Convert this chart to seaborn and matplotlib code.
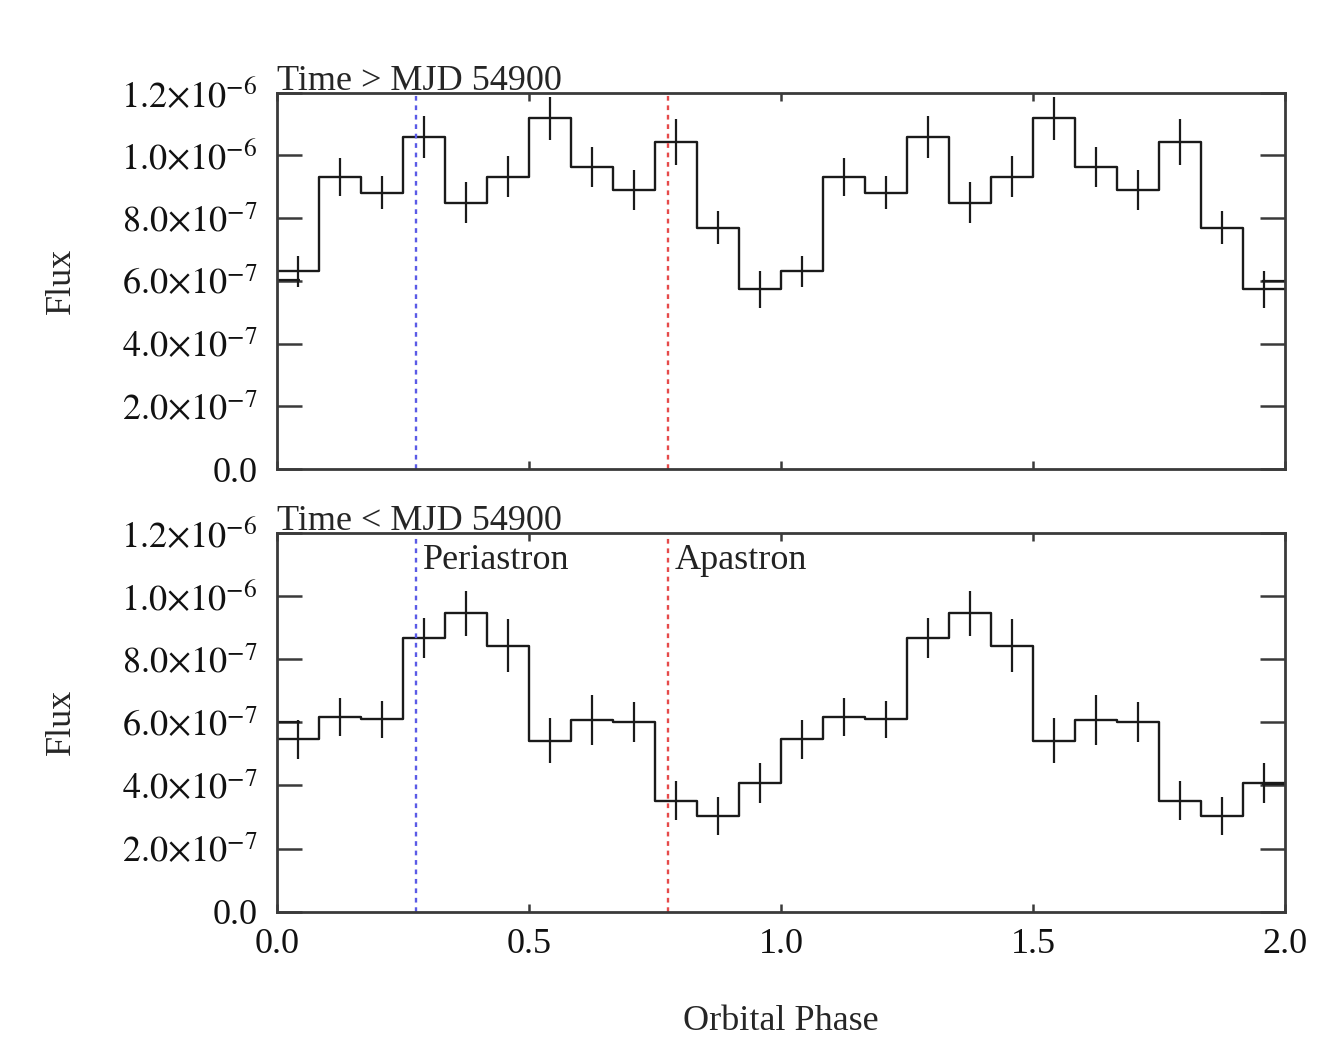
import numpy as np
import pandas as pd
import seaborn as sns
import matplotlib.pyplot as plt
from matplotlib.ticker import FixedLocator, FixedFormatter

OUT_FILE = "out.png"

# --- data: 12 phase bins per orbit, folded light curve shown twice ---
N_BINS = 12
N_CYCLES = 2

flux_late = [6.31e-7, 9.32e-7, 8.81e-7, 10.6e-7, 8.49e-7, 9.32e-7,
             11.18e-7, 9.64e-7, 8.90e-7, 10.43e-7, 7.70e-7, 5.73e-7]
err_late = [0.49e-7, 0.60e-7, 0.52e-7, 0.67e-7, 0.66e-7, 0.65e-7,
            0.69e-7, 0.64e-7, 0.64e-7, 0.73e-7, 0.53e-7, 0.58e-7]

flux_early = [5.46e-7, 6.16e-7, 6.09e-7, 8.66e-7, 9.45e-7, 8.43e-7,
              5.42e-7, 6.07e-7, 6.02e-7, 3.52e-7, 3.03e-7, 4.08e-7]
err_early = [0.61e-7, 0.60e-7, 0.59e-7, 0.63e-7, 0.71e-7, 0.84e-7,
             0.72e-7, 0.80e-7, 0.63e-7, 0.63e-7, 0.59e-7, 0.64e-7]

# short segments at the phase 0 / 2 edges
edge_late = [6.03e-7, 6.00e-7]
edge_early = [6.02e-7, 4.05e-7]

panel_titles = ["Time > MJD 54900", "Time < MJD 54900"]

periastron_phase = 0.275
apastron_phase = 0.775

y_ticks = [0.0, 2e-7, 4e-7, 6e-7, 8e-7, 10e-7, 12e-7]
y_ticklabels = ["0.0", r"$2.0{\times}10^{-7}$", r"$4.0{\times}10^{-7}$",
                r"$6.0{\times}10^{-7}$", r"$8.0{\times}10^{-7}$",
                r"$1.0{\times}10^{-6}$", r"$1.2{\times}10^{-6}$"]
x_ticks = [0.0, 0.5, 1.0, 1.5, 2.0]
x_ticklabels = ["0.0", "0.5", "1.0", "1.5", "2.0"]

FS = 26


def folded_frame(flux, err):
    edges = np.linspace(0, N_CYCLES, N_BINS * N_CYCLES + 1)
    f = list(flux) * N_CYCLES
    e = list(err) * N_CYCLES
    step = pd.DataFrame({"phase": edges, "flux": f + [f[-1]]})
    pts = pd.DataFrame({"phase": (edges[:-1] + edges[1:]) / 2, "flux": f, "err": e})
    return step, pts


sns.set_theme(style="ticks", rc={
    "axes.edgecolor": "#3a3a3a",
    "axes.linewidth": 2.0,
    "xtick.color": "#3a3a3a",
    "ytick.color": "#3a3a3a",
    "xtick.labelcolor": "#111111",
    "ytick.labelcolor": "#111111",
})
plt.rcParams["font.family"] = ["Liberation Serif", "DejaVu Serif"]
plt.rcParams["mathtext.fontset"] = "stix"

fig = plt.figure(figsize=(13.35, 10.42), dpi=100)
ax_top = fig.add_axes([0.2075, 0.5499, 0.755, 0.3611])
ax_bot = fig.add_axes([0.2075, 0.1250, 0.755, 0.3637])

panels = [(ax_top, flux_late, err_late, edge_late, panel_titles[0]),
          (ax_bot, flux_early, err_early, edge_early, panel_titles[1])]

for ax, flux, err, edge, title in panels:
    step, pts = folded_frame(flux, err)
    sns.lineplot(data=step, x="phase", y="flux", drawstyle="steps-post",
                 color="#1a1a1a", linewidth=1.7, ax=ax)
    ax.errorbar(pts["phase"], pts["flux"], yerr=pts["err"], fmt="none",
                ecolor="#1a1a1a", elinewidth=1.6, capsize=0)
    ax.hlines(edge[0], 0.0, 0.045, color="#1a1a1a", linewidth=1.6)
    ax.hlines(edge[1], 1.955, 2.0, color="#1a1a1a", linewidth=1.6)

    ax.axvline(periastron_phase, color="#5a5ae6", linestyle=(0, (2, 2)), linewidth=1.7)
    ax.axvline(apastron_phase, color="#e64a4a", linestyle=(0, (2, 2)), linewidth=1.7)

    ax.set_xlim(0, 2)
    ax.set_ylim(0, 1.2e-6)
    ax.yaxis.set_major_locator(FixedLocator(y_ticks))
    ax.yaxis.set_major_formatter(FixedFormatter(y_ticklabels))
    ax.xaxis.set_major_locator(FixedLocator(x_ticks))
    ax.tick_params(axis="y", which="major", direction="in", length=18, width=1.8,
                   left=True, right=True, labelsize=FS, pad=14)
    ax.tick_params(axis="x", which="major", direction="in", length=6, width=1.8,
                   top=True, bottom=True, labelsize=FS, pad=12)
    ax.minorticks_off()

    ax.set_ylabel("Flux", fontsize=FS)
    ax.yaxis.set_label_coords(-0.197, 0.5)
    ax.set_xlabel("")
    ax.text(0.0, 1.008, title, transform=ax.transAxes, ha="left", va="baseline",
            fontsize=FS)

ax_top.xaxis.set_major_formatter(FixedFormatter([""] * len(x_ticks)))
ax_bot.xaxis.set_major_formatter(FixedFormatter(x_ticklabels))
ax_bot.set_xlabel("Orbital Phase", fontsize=FS)
ax_bot.xaxis.set_label_coords(0.5, -0.245)

ax_bot.text(periastron_phase + 0.014, 1.085e-6, "Periastron", ha="left",
            va="baseline", fontsize=FS, color="#222222")
ax_bot.text(apastron_phase + 0.014, 1.085e-6, "Apastron", ha="left",
            va="baseline", fontsize=FS, color="#222222")

fig.savefig(OUT_FILE, dpi=100, facecolor="white")
plt.close(fig)
